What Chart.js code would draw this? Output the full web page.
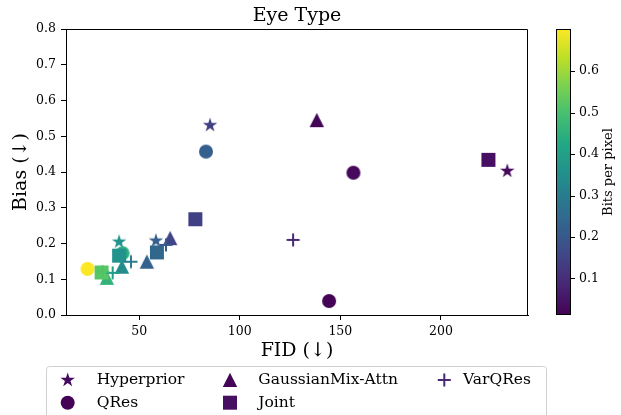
<!DOCTYPE html>
<html>
<head>
<meta charset="utf-8">
<script src="https://cdn.jsdelivr.net/npm/chart.js@4.4.1/dist/chart.umd.min.js"></script>
<style>
  html, body { margin: 0; padding: 0; background: #fff; }
  #wrap { width: 621px; height: 415px; position: relative; }
</style>
</head>
<body>
<div id="wrap"><canvas id="c" width="621" height="415"></canvas></div>
<script>
// ---------------- data ----------------
const seriesNames = ['Hyperprior', 'QRes', 'GaussianMix-Attn', 'Joint', 'VarQRes'];
const seriesShapes = ['star', 'circle', 'triangle', 'square', 'plus'];

const hyperpriorFID  = [233.0, 85.2, 58.3, 40.0];
const hyperpriorBias = [0.403, 0.531, 0.208, 0.205];
const hyperpriorBpp  = [0.03, 0.14, 0.22, 0.36];

const qresFID  = [144.4, 156.5, 83.2, 41.7, 24.3];
const qresBias = [0.039, 0.398, 0.457, 0.173, 0.129];
const qresBpp  = [0.015, 0.025, 0.22, 0.44, 0.70];

const gmaFID  = [138.3, 65.4, 53.8, 41.4, 33.9];
const gmaBias = [0.545, 0.215, 0.149, 0.135, 0.104];
const gmaBpp  = [0.02, 0.15, 0.23, 0.34, 0.46];

const jointFID  = [223.6, 77.9, 58.8, 40.0, 31.3];
const jointBias = [0.434, 0.268, 0.175, 0.166, 0.119];
const jointBpp  = [0.04, 0.14, 0.24, 0.36, 0.52];

const varFID  = [126.5, 63.3, 45.9, 36.8, 31.8];
const varBias = [0.210, 0.196, 0.149, 0.118, 0.121];
const varBpp  = [0.09, 0.20, 0.30, 0.39, 0.51];

const xTicks = [50, 100, 150, 200];
const yTicks = [0, 0.1, 0.2, 0.3, 0.4, 0.5, 0.6, 0.7, 0.8];
const cbarTicks = [0.1, 0.2, 0.3, 0.4, 0.5, 0.6];
const cbarMin = 0.0115, cbarMax = 0.702;

const titleText = 'Eye Type';
const xLabel = 'FID (↓)';
const yLabel = 'Bias (↓)';
const cbarLabel = 'Bits per pixel';

// ---------------- helpers ----------------
const FONT = "'DejaVu Serif', serif";
const VIRIDIS = ['#440154','#482475','#414487','#355f8d','#2a788e','#21918c','#22a884','#44bf70','#7ad151','#bddf26','#fde725'];
function hex2rgb(h){ return [parseInt(h.slice(1,3),16),parseInt(h.slice(3,5),16),parseInt(h.slice(5,7),16)]; }
const VIR = VIRIDIS.map(hex2rgb);
function viridis(t){
  t = Math.max(0, Math.min(1, t));
  const p = t * (VIR.length - 1);
  const i = Math.min(Math.floor(p), VIR.length - 2);
  const f = p - i;
  const a = VIR[i], b = VIR[i+1];
  return 'rgb(' + a.map((v,k)=>Math.round(v + (b[k]-v)*f)).join(',') + ')';
}
function bppColor(v){ return viridis((v - cbarMin) / (cbarMax - cbarMin)); }

const markerCache = {};
function drawShape(ctx, shape, cx, cy, color){
  ctx.fillStyle = color; ctx.strokeStyle = color;
  ctx.beginPath();
  if (shape === 'circle'){
    ctx.arc(cx, cy, 7, 0, Math.PI*2); ctx.fill();
  } else if (shape === 'square'){
    ctx.rect(cx-7, cy-7, 14, 14); ctx.fill();
  } else if (shape === 'triangle'){
    ctx.moveTo(cx, cy-7.2); ctx.lineTo(cx-7.2, cy+7); ctx.lineTo(cx+7.2, cy+7); ctx.closePath(); ctx.fill();
  } else if (shape === 'star'){
    const R = 7.6, r = R*0.381966;
    for (let k=0;k<10;k++){
      const ang = -Math.PI/2 + k*Math.PI/5;
      const rad = k%2===0 ? R : r;
      const px = cx + rad*Math.cos(ang), py = cy + rad*Math.sin(ang);
      if (k===0) ctx.moveTo(px,py); else ctx.lineTo(px,py);
    }
    ctx.closePath(); ctx.fill();
  } else if (shape === 'plus'){
    ctx.lineWidth = 2;
    ctx.moveTo(cx-6.5, cy); ctx.lineTo(cx+6.5, cy);
    ctx.moveTo(cx, cy-6.5); ctx.lineTo(cx, cy+6.5);
    ctx.stroke();
  }
}
function marker(shape, color){
  const key = shape + color;
  if (markerCache[key]) return markerCache[key];
  const cv = document.createElement('canvas');
  cv.width = 24; cv.height = 24;
  drawShape(cv.getContext('2d'), shape, 12, 12, color);
  markerCache[key] = cv;
  return cv;
}

const seriesData = [
  [hyperpriorFID, hyperpriorBias, hyperpriorBpp],
  [qresFID, qresBias, qresBpp],
  [gmaFID, gmaBias, gmaBpp],
  [jointFID, jointBias, jointBpp],
  [varFID, varBias, varBpp]
];

const datasets = seriesNames.map((name, si) => {
  const [fx, by, bp] = seriesData[si];
  const shape = seriesShapes[si];
  return {
    label: name,
    data: fx.map((v, i) => ({x: v, y: by[i], bpp: bp[i]})),
    order: seriesNames.length - si,
    pointStyle: ctx => marker(shape, bppColor(ctx.raw ? ctx.raw.bpp : bp[0])),
    pointRadius: 7,
    pointHoverRadius: 7,
    backgroundColor: ctx => bppColor(ctx.raw ? ctx.raw.bpp : bp[0]),
    borderColor: ctx => bppColor(ctx.raw ? ctx.raw.bpp : bp[0]),
    showLine: false
  };
});

// ---------------- plugin: title, frame, legend, colorbar ----------------
const extras = {
  id: 'extras',
  afterDraw(chart){
    const ctx = chart.ctx;
    const a = chart.chartArea;
    ctx.save();
    // title
    ctx.fillStyle = '#000';
    ctx.font = '19px ' + FONT;
    ctx.textAlign = 'center'; ctx.textBaseline = 'alphabetic';
    ctx.fillText(titleText, (a.left + a.right)/2, 21);

    // top and right spines
    ctx.strokeStyle = '#000'; ctx.lineWidth = 1;
    const tY = Math.round(a.top) + 0.5, rX = Math.round(a.right) - 0.5;
    ctx.beginPath();
    ctx.moveTo(a.left, tY); ctx.lineTo(rX, tY); ctx.lineTo(rX, a.bottom);
    ctx.stroke();

    // colorbar
    const cbL = 556, cbR = 571, cbT = a.top, cbB = a.bottom;
    const g = ctx.createLinearGradient(0, cbB, 0, cbT);
    for (let k=0;k<=20;k++) g.addColorStop(k/20, viridis(k/20));
    ctx.fillStyle = g;
    ctx.fillRect(cbL, cbT, cbR-cbL, cbB-cbT);
    ctx.strokeStyle = '#000'; ctx.lineWidth = 1;
    ctx.strokeRect(cbL+0.5, Math.round(cbT)+0.5, cbR-cbL-1, Math.round(cbB-cbT)-1);
    ctx.fillStyle = '#000';
    ctx.font = '12.5px ' + FONT;
    ctx.textAlign = 'left'; ctx.textBaseline = 'middle';
    cbarTicks.forEach(t => {
      const y = cbB - (t - cbarMin)/(cbarMax - cbarMin)*(cbB - cbT);
      const yy = Math.round(y)+0.5;
      ctx.beginPath(); ctx.moveTo(cbR, yy); ctx.lineTo(cbR+4, yy); ctx.stroke();
      ctx.fillText(t.toFixed(1), cbR+8, y);
    });
    ctx.save();
    ctx.translate(609, (cbT+cbB)/2);
    ctx.rotate(-Math.PI/2);
    ctx.textAlign = 'center'; ctx.textBaseline = 'middle';
    ctx.font = '13px ' + FONT;
    ctx.fillText(cbarLabel, 0, 0);
    ctx.restore();

    // legend
    const lx = 46.5, ly = 366.5, lw = 500, lh = 60, rr = 3;
    ctx.beginPath();
    ctx.moveTo(lx+rr, ly); ctx.lineTo(lx+lw-rr, ly); ctx.quadraticCurveTo(lx+lw, ly, lx+lw, ly+rr);
    ctx.lineTo(lx+lw, ly+lh); ctx.lineTo(lx, ly+lh); ctx.lineTo(lx, ly+rr); ctx.quadraticCurveTo(lx, ly, lx+rr, ly);
    ctx.closePath();
    ctx.fillStyle = 'rgba(255,255,255,0.8)'; ctx.fill();
    ctx.strokeStyle = '#d0d0d0'; ctx.lineWidth = 1; ctx.stroke();
    const colMarkX = [67.7, 230, 444.3];
    const colTextX = [96.7, 258.3, 463];
    const rowY = [380, 402.7];
    ctx.font = '15.5px ' + FONT; ctx.textAlign = 'left'; ctx.textBaseline = 'middle';
    seriesNames.forEach((name, si) => {
      const col = Math.floor(si/2), row = si % 2;
      const col0 = bppColor(seriesData[si][2][0]);
      drawShape(ctx, seriesShapes[si], colMarkX[col], rowY[row], col0);
      ctx.fillStyle = '#000';
      ctx.fillText(name, colTextX[col], rowY[row]);
    });
    ctx.restore();
  }
};

const tickFont = {family: FONT, size: 12.5};
new Chart(document.getElementById('c'), {
  type: 'scatter',
  data: { datasets },
  plugins: [extras],
  options: {
    responsive: false,
    animation: false,
    events: [],
    layout: { padding: { left: 0, right: 93, top: 29, bottom: 0 } },
    plugins: {
      legend: { display: false },
      tooltip: { enabled: false },
      title: { display: false }
    },
    scales: {
      x: {
        type: 'linear', min: 13.6, max: 243.3,
        afterBuildTicks: s => { s.ticks = xTicks.map(v => ({value: v})); },
        afterFit: s => { s.height = 100; },
        grid: { display: true, drawOnChartArea: false, drawTicks: true, tickLength: 5, color: '#000' },
        border: { display: true, color: '#000', width: 1 },
        ticks: { font: tickFont, color: '#000', padding: 4, maxRotation: 0, callback: v => String(v) },
        title: { display: true, text: xLabel, color: '#000', font: {family: FONT, size: 19}, padding: {top: 0, bottom: 53} }
      },
      y: {
        type: 'linear', min: 0, max: 0.8,
        afterBuildTicks: s => { s.ticks = yTicks.map(v => ({value: v})); },
        afterFit: s => { s.width = 66; },
        grid: { display: true, drawOnChartArea: false, drawTicks: true, tickLength: 5, color: '#000' },
        border: { display: true, color: '#000', width: 1 },
        ticks: { font: tickFont, color: '#000', padding: 5, callback: v => Number(v).toFixed(1) },
        title: { display: true, text: yLabel, color: '#000', font: {family: FONT, size: 19}, padding: {top: 9.5, bottom: 0} }
      }
    }
  }
});
</script>
</body>
</html>
